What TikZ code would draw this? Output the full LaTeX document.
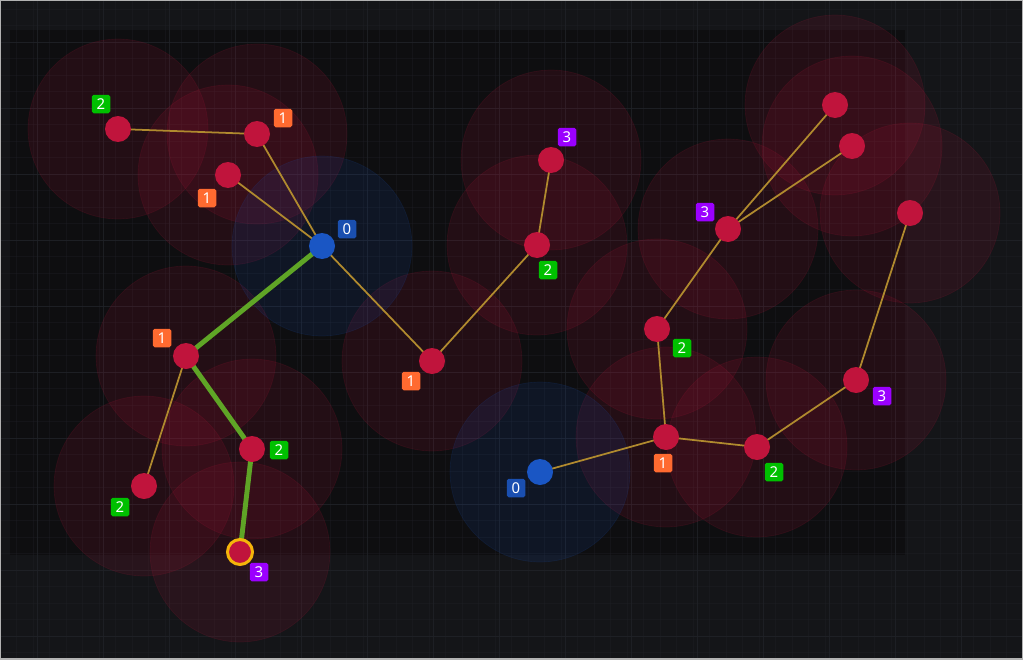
\documentclass[tikz,border=0pt]{standalone}
\usepackage{fontspec}
\setmainfont{Noto Sans}
\usepackage{tikz}
\usetikzlibrary{positioning}

\definecolor{canvas}{HTML}{141518}
\definecolor{canvasdark}{HTML}{0E0E10}
\definecolor{gridline}{HTML}{202227}
\definecolor{stationred}{HTML}{C0143C}
\definecolor{hubblue}{HTML}{1A56C4}
\definecolor{wire}{HTML}{B08A2E}
\definecolor{route}{HTML}{5FA526}
\definecolor{ring}{HTML}{F5B50A}
\definecolor{taggreen}{HTML}{00C000}
\definecolor{tagorange}{HTML}{FF6A30}
\definecolor{tagpurple}{HTML}{9B00FF}
\definecolor{tagblue}{HTML}{1A4FB0}

\pgfdeclarelayer{back}
\pgfdeclarelayer{range}
\pgfdeclarelayer{wires}
\pgfsetlayers{back,range,wires,main}

\tikzset{
    station/.style={circle, fill=stationred, minimum size=0.52cm, inner sep=0pt},
    hub/.style={station, fill=hubblue},
    target/.style={station, draw=ring, line width=1.7pt, minimum size=0.5cm},
    tag/.style={rounded corners=1pt, minimum size=0.37cm, inner sep=0pt,
        text=white, font=\fontsize{8.5}{8.5}\selectfont},
    rangered/.style={fill=stationred, fill opacity=0.12, draw=stationred, draw opacity=0.12},
    rangeblue/.style={fill=hubblue, fill opacity=0.12, draw=hubblue, draw opacity=0.12},
    link/.style={draw=wire, line width=1pt},
    best/.style={draw=route, line width=2.8pt}
}

\begin{document}
\begin{tikzpicture}[x=0.02cm, y=-0.02cm]
    \useasboundingbox (0,0) rectangle (1023,659);

    % backdrop and grid
    \begin{pgfonlayer}{back}
        \fill[canvas] (0,0) rectangle (1023,659);
        \fill[canvasdark] (10,30) rectangle (905,555);
        \foreach \gx in {0,16.5,...,1023}
            \draw[gridline, line width=0.2pt, opacity=0.35] (\gx,0) -- (\gx,659);
        \foreach \gy in {9,25.5,...,659}
            \draw[gridline, line width=0.2pt, opacity=0.35] (0,\gy) -- (1023,\gy);
        \foreach \gx in {37,103,...,1023}
            \draw[gridline, line width=0.4pt, opacity=0.8] (\gx,0) -- (\gx,659);
        \foreach \gy in {42,108,...,659}
            \draw[gridline, line width=0.4pt, opacity=0.8] (0,\gy) -- (1023,\gy);
        \draw[gray!60, line width=0.6pt] (0,0) rectangle (1023,659);
    \end{pgfonlayer}

    % stations
    \node[hub] (B1) at (322,246) {};
    \node[hub] (B2) at (540,472) {};
    \node[station] (A) at (118,129) {};
    \node[station] (C) at (257,134) {};
    \node[station] (D) at (228,175) {};
    \node[station] (E) at (186,356) {};
    \node[station] (F) at (252,449) {};
    \node[station] (G) at (144,486) {};
    \node[target] (H) at (240,552) {};
    \node[station] (I) at (432,361) {};
    \node[station] (J) at (537,245) {};
    \node[station] (K) at (551,160) {};
    \node[station] (L) at (728,229) {};
    \node[station] (M) at (835,105) {};
    \node[station] (N) at (852,146) {};
    \node[station] (O) at (910,213) {};
    \node[station] (P) at (657,329) {};
    \node[station] (Q) at (666,437) {};
    \node[station] (R) at (757,447) {};
    \node[station] (S) at (856,380) {};

    % hop counts
    \node[tag, fill=tagblue] (tB1) at (347,229) {0};
    \node[tag, fill=tagblue] (tB2) at (516,488) {0};
    \node[tag, fill=taggreen] (tA) at (101,104) {2};
    \node[tag, fill=tagorange] (tC) at (283,118) {1};
    \node[tag, fill=tagorange] (tD) at (207,198) {1};
    \node[tag, fill=tagorange] (tE) at (162,338) {1};
    \node[tag, fill=taggreen] (tF) at (279,450) {2};
    \node[tag, fill=taggreen] (tG) at (120,507) {2};
    \node[tag, fill=tagpurple] (tH) at (259,572) {3};
    \node[tag, fill=tagorange] (tI) at (411,381) {1};
    \node[tag, fill=taggreen] (tJ) at (548,270) {2};
    \node[tag, fill=tagpurple] (tK) at (567,137) {3};
    \node[tag, fill=tagpurple] (tL) at (705,212) {3};
    \node[tag, fill=taggreen] (tP) at (682,348) {2};
    \node[tag, fill=tagorange] (tQ) at (663,463) {1};
    \node[tag, fill=taggreen] (tR) at (774,472) {2};
    \node[tag, fill=tagpurple] (tS) at (882,396) {3};

    % coverage
    \begin{pgfonlayer}{range}
        \foreach \n in {A,C,D,E,F,G,H,I,J,K,L,M,N,O,P,Q,R,S}
            \path[rangered] (\n.center) circle[radius=1.8cm];
        \foreach \n in {B1,B2}
            \path[rangeblue] (\n.center) circle[radius=1.8cm];
    \end{pgfonlayer}

    % links
    \begin{pgfonlayer}{wires}
        \path[link]
            (B1.center) -- (C.center)
            (B1.center) -- (D.center)
            (A.center) -- (C.center)
            (B1.center) -- (I.center)
            (I.center) -- (J.center)
            (J.center) -- (K.center)
            (E.center) -- (G.center)
            (L.center) -- (M.center)
            (L.center) -- (N.center)
            (L.center) -- (P.center)
            (P.center) -- (Q.center)
            (B2.center) -- (Q.center)
            (Q.center) -- (R.center)
            (R.center) -- (S.center)
            (S.center) -- (O.center);
        \path[best] (B1.center) -- (E.center) -- (F.center) -- (H.center);
    \end{pgfonlayer}
\end{tikzpicture}
\end{document}
